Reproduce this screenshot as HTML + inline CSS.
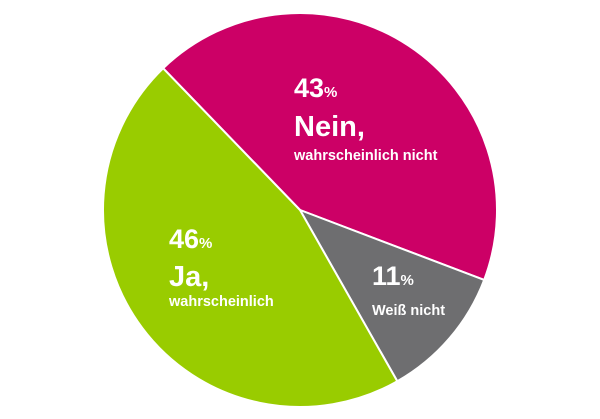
<!DOCTYPE html>
<html><head><meta charset="utf-8">
<style>
html,body{margin:0;padding:0;background:#fff;}
svg{display:block;font-family:"Liberation Sans",Arial,sans-serif;}
text{fill:#fff;font-weight:bold;}
</style></head>
<body>
<svg id="chart" width="600" height="419" viewBox="0 0 600 419">
<g id="slices"></g>
<g>
<text x="294" y="97" font-size="27">43<tspan font-size="15">%</tspan></text>
<text x="294" y="136" font-size="29">Nein,</text>
<text x="294" y="160" font-size="14.5">wahrscheinlich nicht</text>
</g>
<g>
<text x="169" y="248" font-size="27">46<tspan font-size="15">%</tspan></text>
<text x="169" y="286" font-size="29">Ja,</text>
<text x="169" y="306" font-size="14.5">wahrscheinlich</text>
</g>
<g>
<text x="372" y="285" font-size="27">11<tspan font-size="15">%</tspan></text>
<text x="372" y="315" font-size="14.5">Weiß nicht</text>
</g>
</svg>
<script>
const categories = ["Nein, wahrscheinlich nicht", "Weiß nicht", "Ja, wahrscheinlich"];
const values = [43, 11, 46];
const colors = ["#cc0066", "#6e6e70", "#99cc00"];
const cx = 300, cy = 210, r = 197, startDeg = -44;
const g = document.getElementById('slices');
const total = values.reduce((a, b) => a + b, 0);
let a0 = startDeg;
function pt(deg) {
  const rad = deg * Math.PI / 180;
  return [cx + r * Math.sin(rad), cy - r * Math.cos(rad)];
}
values.forEach((v, i) => {
  const sweep = v / total * 360;
  const a1 = a0 + sweep;
  const p0 = pt(a0), p1 = pt(a1);
  const large = sweep > 180 ? 1 : 0;
  const path = document.createElementNS('http://www.w3.org/2000/svg', 'path');
  path.setAttribute('d', `M${cx},${cy} L${p0[0]},${p0[1]} A${r},${r} 0 ${large} 1 ${p1[0]},${p1[1]} Z`);
  path.setAttribute('fill', colors[i]);
  path.setAttribute('stroke', '#fff');
  path.setAttribute('stroke-width', '2');
  
  
  const t = document.createElementNS('http://www.w3.org/2000/svg', 'title');
  t.textContent = categories[i] + ': ' + v + '%';
  path.appendChild(t);
  g.appendChild(path);
  a0 = a1;
});
</script>
</body></html>
